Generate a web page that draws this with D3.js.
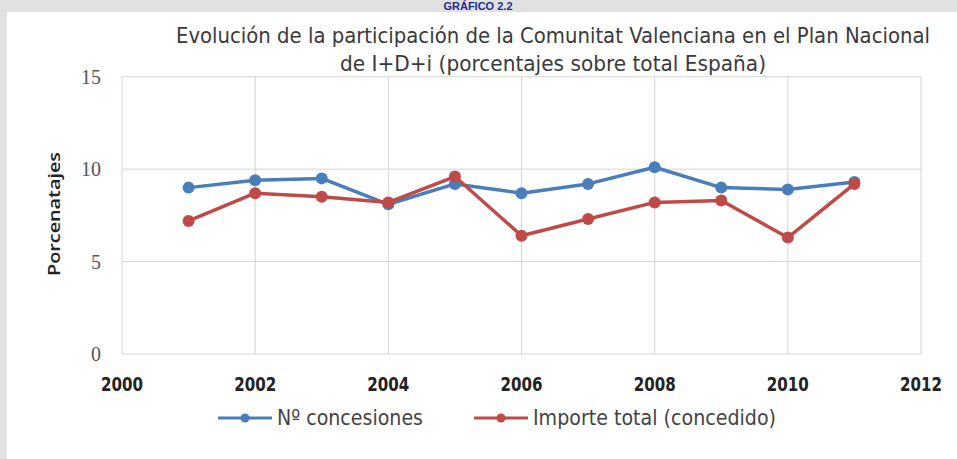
<!DOCTYPE html>
<html><head><meta charset="utf-8">
<script src="https://cdn.jsdelivr.net/npm/d3@7"></script>
<style>body{margin:0;background:#e1e1e1;} svg{display:block;}</style>
</head><body>
<script>
const years = [2001,2002,2003,2004,2005,2006,2007,2008,2009,2010,2011];
const concesiones = [9.0,9.4,9.5,8.1,9.2,8.7,9.2,10.1,9.0,8.9,9.3];
const importe = [7.2,8.7,8.5,8.2,9.6,6.4,7.3,8.2,8.3,6.3,9.2];
const xTicks = [2000,2002,2004,2006,2008,2010,2012];
const yTicks = [0,5,10,15];
const seriesNames = ["Nº concesiones","Importe total (concedido)"];
const colors = ["#4a7ebb","#be4b48"];

const W=957,H=459;
const NARROW="'DejaVu Sans Condensed','Noto Sans',sans-serif";
const svg=d3.select("body").append("svg").attr("width",W).attr("height",H);
svg.append("rect").attr("width",W).attr("height",H).attr("fill","#e1e1e1");
svg.append("rect").attr("x",7).attr("y",12).attr("width",W-7).attr("height",H-12).attr("fill","#fff");
svg.append("text").attr("x",478).attr("y",10).attr("text-anchor","middle")
  .attr("font-family","Liberation Sans").attr("font-weight","bold").attr("font-size",11)
  .attr("fill","#1f2a9a").text("GRÁFICO 2.2");

const x=d3.scaleLinear().domain([2000,2012]).range([122,921]);
const y=d3.scaleLinear().domain([0,15]).range([354,76.7]);

const g=svg.append("g");
g.selectAll(".hg").data(yTicks).join("line").attr("x1",x(2000)).attr("x2",x(2012))
 .attr("y1",d=>y(d)).attr("y2",d=>y(d)).attr("stroke","#d4d4d4").attr("stroke-width",1);
g.selectAll(".vg").data(xTicks).join("line").attr("y1",y(0)).attr("y2",y(15))
 .attr("x1",d=>x(d)).attr("x2",d=>x(d)).attr("stroke","#d4d4d4").attr("stroke-width",1);

svg.selectAll(".yt").data(yTicks).join("text").attr("x",101).attr("y",d=>y(d)+7)
 .attr("text-anchor","end").attr("font-family","Liberation Serif").attr("font-size",20)
 .attr("fill","#555").text(d=>d);
svg.selectAll(".xt").data(xTicks).join("text").attr("x",d=>x(d)).attr("y",391)
 .attr("text-anchor","middle").attr("font-family",NARROW).attr("font-weight","bold")
 .attr("font-size",19).attr("fill","#222").attr("textLength",42).attr("lengthAdjust","spacingAndGlyphs")
 .text(d=>d);
svg.append("text").attr("transform","translate(60,214) rotate(-90)").attr("text-anchor","middle")
 .attr("font-family","Open Sans").attr("font-weight","600").attr("font-size",16).attr("fill","#222")
 .attr("textLength",124).attr("lengthAdjust","spacingAndGlyphs")
 .text("Porcenatajes");
const tt=svg.append("text").attr("text-anchor","middle").attr("font-family",NARROW)
 .attr("font-size",22).attr("fill","#3a3a3a");
tt.append("tspan").attr("x",553).attr("y",43).attr("textLength",754).attr("lengthAdjust","spacingAndGlyphs")
 .text("Evolución de la participación de la Comunitat Valenciana en el Plan Nacional");
tt.append("tspan").attr("x",553).attr("y",71).attr("textLength",426).attr("lengthAdjust","spacingAndGlyphs")
 .text("de I+D+i  (porcentajes sobre total España)");

const line=d3.line().x((d,i)=>x(years[i])).y(d=>y(d));
[concesiones,importe].forEach((s,k)=>{
  svg.append("path").attr("d",line(s)).attr("fill","none").attr("stroke",colors[k]).attr("stroke-width",3.5)
   .attr("stroke-linejoin","round");
  svg.selectAll(".m"+k).data(s).join("circle").attr("cx",(d,i)=>x(years[i])).attr("cy",d=>y(d))
   .attr("r",6).attr("fill",colors[k]);
});

const lx=[218,474];
const lw=[146,243];
seriesNames.forEach((n,k)=>{
  svg.append("line").attr("x1",lx[k]).attr("x2",lx[k]+54).attr("y1",418).attr("y2",418)
   .attr("stroke",colors[k]).attr("stroke-width",3);
  svg.append("circle").attr("cx",lx[k]+27).attr("cy",418).attr("r",4.5).attr("fill",colors[k]);
  svg.append("text").attr("x",lx[k]+59).attr("y",425).attr("font-family",NARROW)
   .attr("font-size",21).attr("fill","#444").attr("textLength",lw[k]).attr("lengthAdjust","spacingAndGlyphs")
   .text(n);
});
</script>
</body></html>
